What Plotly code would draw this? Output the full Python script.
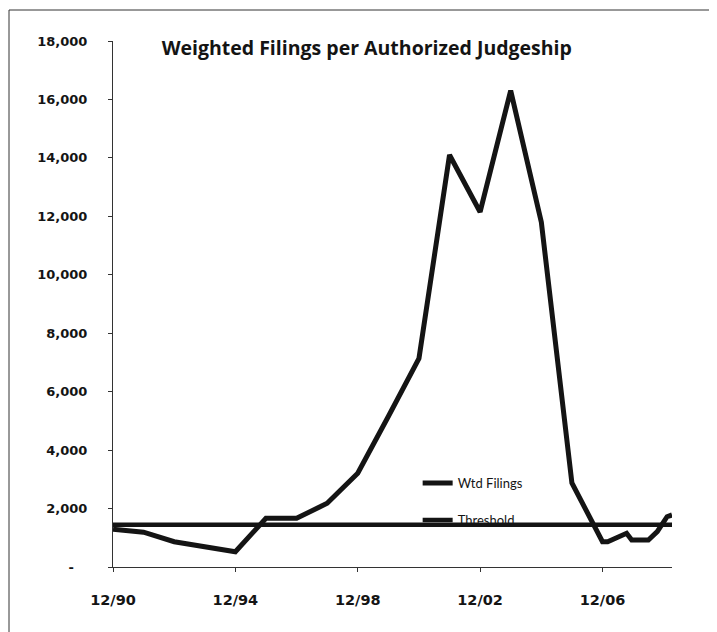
import plotly.graph_objects as go

# ---- data ----
dates = ["1990-12-01", "1991-12-01", "1992-12-01", "1993-12-01", "1994-12-01",
         "1995-12-01", "1996-12-01", "1997-12-01", "1998-12-01", "1999-12-01",
         "2000-12-01", "2001-12-01", "2002-12-01", "2003-12-01", "2004-12-01",
         "2005-12-01", "2006-12-01", "2007-02-01", "2007-09-15", "2007-11-15",
         "2008-06-01", "2008-09-15", "2008-11-10", "2009-01-10", "2009-03-10"]
wtd_filings = [1290, 1190, 866, 690, 524,
               1667, 1667, 2180, 3207, 5150,
               7140, 14100, 12150, 16300, 11800,
               2875, 866, 866, 1153, 924,
               924, 1208, 1495, 1721, 1780]
threshold_value = 1450
threshold = [threshold_value] * len(dates)

series_names = ["Wtd Filings", "Threshold"]
title_text = "Weighted Filings per Authorized Judgeship"

y_tickvals = [0, 2000, 4000, 6000, 8000, 10000, 12000, 14000, 16000, 18000]
y_ticktext = ["-\u00a0\u00a0\u00a0", "2,000", "4,000", "6,000", "8,000",
              "10,000", "12,000", "14,000", "16,000", "18,000"]
x_tickvals = ["1990-12-01", "1994-12-01", "1998-12-01", "2002-12-01", "2006-12-01"]
x_ticktext = ["12/90", "12/94", "12/98", "12/02", "12/06"]

ink = "#141414"

# the page body adds an 8px margin, so the figure is 8px smaller than the window
W, H = 709, 624

fig = go.Figure()
fig.add_trace(go.Scatter(x=dates, y=wtd_filings, mode="lines", name=series_names[0],
                         legendgroup="a",
                         line=dict(color=ink, width=5, shape="linear")))
fig.add_trace(go.Scatter(x=dates, y=threshold, mode="lines", name=series_names[1],
                         legendgroup="b",
                         line=dict(color=ink, width=4.5)))

fig.update_layout(
    width=W, height=H,
    margin=dict(l=105, r=45, t=33, b=65),
    paper_bgcolor="white", plot_bgcolor="white",
    title=dict(text=title_text, x=0.454, xref="paper", xanchor="center",
               y=1 - 40 / H, yref="container", yanchor="middle",
               font=dict(family="Open Sans", size=19.5, color=ink, weight="bold")),
    showlegend=True,
    legend=dict(x=0.545, y=0.188, xanchor="left", yanchor="top",
                bgcolor="rgba(0,0,0,0)", tracegroupgap=17,
                font=dict(family="Lato", size=13, color=ink)),
    xaxis=dict(type="date", range=["1990-12-01", "2009-03-10"],
               tickvals=x_tickvals, ticktext=x_ticktext,
               showgrid=False, zeroline=False,
               showline=True, linecolor="#333", linewidth=1,
               ticks="outside", ticklen=4, tickcolor="#333",
               ticklabelstandoff=16,
               tickfont=dict(family="DejaVu Sans", size=14.5, color=ink, weight="bold")),
    yaxis=dict(range=[0, 18000], tickvals=y_tickvals, ticktext=y_ticktext,
               showgrid=False, zeroline=False,
               showline=True, linecolor="#333", linewidth=1,
               ticks="outside", ticklen=4, tickcolor="#333",
               ticklabelstandoff=18,
               tickfont=dict(family="DejaVu Sans", size=13, color=ink, weight="bold")),
    shapes=[dict(type="rect", xref="paper", yref="paper",
                 x0=-104 / 559, x1=1 + 43 / 559, y0=-0.2, y1=1 + 31 / 526,
                 line=dict(color="#333", width=1))],
)

fig.write_html("out.html")
